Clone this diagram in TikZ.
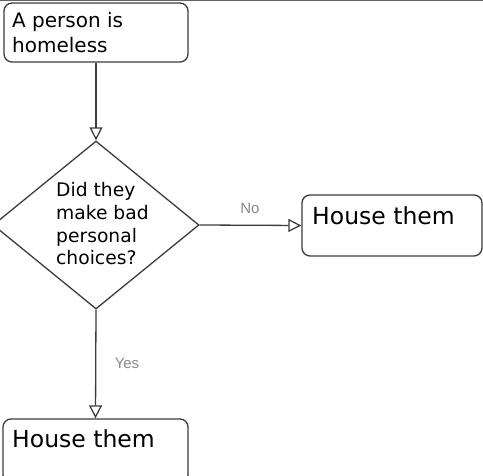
\documentclass[tikz,border=0pt]{standalone}
\usepackage{fontspec}
\setmainfont{DejaVu Sans}
\newfontfamily\lblfont{Liberation Sans}
\usetikzlibrary{arrows.meta,shapes.geometric}
\definecolor{ln}{HTML}{3C3C3C}
\definecolor{lblc}{HTML}{8A8A8A}
\tikzset{
  box/.style={draw=ln, line width=1.3pt, rounded corners=8pt, inner sep=0pt},
  dec/.style={draw=ln, line width=1.3pt, diamond, inner sep=0pt, minimum width=206pt, minimum height=168pt},
  txt/.style={inner sep=0pt, anchor=base west, align=left, text=black},
  conn/.style={draw=ln, line width=1.3pt, -{Triangle[open, length=13pt, width=13pt, line width=1.3pt]}},
  lbl/.style={inner sep=0pt, anchor=base, text=lblc, font=\lblfont\fontsize{15}{17}\selectfont}
}
\begin{document}
\begin{tikzpicture}[x=1pt,y=-1pt]
\clip (0,0) rectangle (483,476);
\fill[white] (0,0) rectangle (483,476);
\draw[draw=ln!80, line width=3pt] (0,0) -- (483,0);
% boxes
\node[box, minimum width=184pt, minimum height=59pt] (top) at (96,32.5) {};
\node[dec] (q) at (96,225) {};
\node[box, minimum width=180pt, minimum height=61pt] (rb) at (392,225.5) {};
\node[box, minimum width=185pt, minimum height=64pt] (bb) at (95.5,451) {};
% texts (anchored at the baseline of the last line)
\node[txt, font=\fontsize{20}{25}\selectfont] (toptext) at (12,53) {A person is\\homeless};
\node[txt, font=\fontsize{18.7}{22.7}\selectfont] (qtext) at (56,265) {Did they\\make bad\\personal\\choices?};
\node[txt, font=\fontsize{23.5}{28}\selectfont] (rbtext) at (312,225) {House them};
\node[txt, font=\fontsize{23.5}{28}\selectfont] (bbtext) at (12,448) {House them};
% connectors
\draw[conn] (top.south) -- (q.north);
\draw[conn] (q.east) -- (rb.west);
\draw[conn] (q.south) -- (bb.north);
\node[lbl] (no) at (250,214) {No};
\node[lbl] (yes) at (127,369) {Yes};
\end{tikzpicture}
\end{document}
